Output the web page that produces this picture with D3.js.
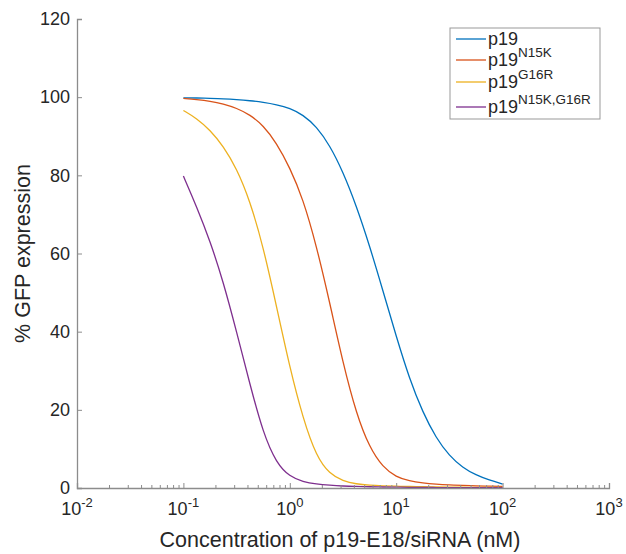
<!DOCTYPE html>
<html>
<head>
<meta charset="utf-8">
<script src="https://cdn.jsdelivr.net/npm/d3@7"></script>
<style>
  body { margin: 0; background: #fff; }
  text { font-family: "Liberation Sans", Arial, sans-serif; fill: #262626; }
</style>
</head>
<body>
<svg id="chart" width="626" height="554"></svg>
<script>
const conc = [0.1, 0.133, 0.178, 0.237, 0.316, 0.422, 0.562, 0.75, 1, 1.33, 1.78, 2.37,
  3.16, 4.22, 5.62, 7.5, 10, 13.3, 17.8, 23.7, 31.6, 42.2, 56.2, 75, 100];

const p19 = [99.8, 99.8, 99.7, 99.6, 99.4, 99.1, 98.7, 98.1, 97.2, 95.5, 92.5, 87.7,
  80.9, 72.2, 62, 50.5, 38.8, 28, 19.3, 12.8, 8.2, 5.2, 3.3, 2.0, 1.0];
const p19N15K = [99.7, 99.4, 99.0, 98.3, 97.2, 95.5, 92.8, 88.3, 82, 74, 62, 47.5,
  32, 19, 10.3, 5.3, 2.8, 1.8, 1.3, 1.0, 0.8, 0.65, 0.55, 0.47, 0.4];
const p19G16R = [96.6, 94.6, 91.6, 87.5, 81.8, 73.5, 61.8, 46.5, 30.8, 17.8, 8.0, 3.6,
  1.8, 1.0, 0.7, 0.55, 0.45, 0.38, 0.32, 0.27, 0.23, 0.2, 0.17, 0.14, 0.12];
const p19N15KG16R = [79.8, 72, 63.2, 52.8, 40, 26.5, 14, 6.3, 2.9, 1.6, 1.0, 0.7,
  0.5, 0.4, 0.32, 0.26, 0.21, 0.17, 0.14, 0.12, 0.1, 0.09, 0.08, 0.07, 0.06];

const seriesNames = ["p19", "p19N15K", "p19G16R", "p19N15K,G16R"];
const seriesSup = ["", "N15K", "G16R", "N15K,G16R"];
const seriesColors = ["#0072BD", "#D95319", "#EDB120", "#7E2F8E"];
const yTicks = [0, 20, 40, 60, 80, 100, 120];
const xExponents = [-2, -1, 0, 1, 2, 3];

const series = [p19, p19N15K, p19G16R, p19N15KG16R];

const margin = { left: 77, top: 19, right: 17, bottom: 66 };
const width = 626 - margin.left - margin.right;
const height = 554 - margin.top - margin.bottom;
const axisColor = "#8c8c8c";

const svg = d3.select("#chart");
const g = svg.append("g").attr("transform", `translate(${margin.left},${margin.top})`);

const x = d3.scaleLog().domain([0.01, 1000]).range([0, width]);
const y = d3.scaleLinear().domain([0, 120]).range([height, 0]);

// curves
const line = d3.line()
  .x((d, i) => x(conc[i]))
  .y(d => y(d))
  .curve(d3.curveBasis);

series.forEach((s, k) => {
  g.append("path")
    .attr("d", line(s))
    .attr("fill", "none")
    .attr("stroke", seriesColors[k])
    .attr("stroke-width", 1.3);
});

// y axis
const yAxis = d3.axisLeft(y).tickValues(yTicks).tickSize(-5).tickPadding(7);
const yg = g.append("g").call(yAxis);
yg.select(".domain").attr("stroke", axisColor).attr("stroke-width", 1.3);
yg.selectAll(".tick line").attr("stroke", axisColor);
yg.selectAll(".tick text").style("font-size", "18px").attr("fill", "#262626");

// x axis: minor ticks
const minor = [];
for (let e = -2; e < 3; e++) {
  for (let m = 2; m <= 9; m++) minor.push(m * Math.pow(10, e));
}
const xg = g.append("g").attr("transform", `translate(0,${height})`);
xg.call(d3.axisBottom(x).tickValues(minor).tickSize(-3).tickFormat(""));
xg.select(".domain").remove();
xg.selectAll(".tick line").attr("stroke", axisColor);

const xg2 = g.append("g").attr("transform", `translate(0,${height})`);
xg2.call(d3.axisBottom(x).tickValues(xExponents.map(e => Math.pow(10, e))).tickSize(-5).tickFormat(""));
xg2.select(".domain").attr("stroke", axisColor).attr("stroke-width", 1.3);
xg2.selectAll(".tick line").attr("stroke", axisColor);

// x tick labels with superscripts
xExponents.forEach(e => {
  const t = g.append("text")
    .attr("x", x(Math.pow(10, e)))
    .attr("y", height + 27)
    .attr("text-anchor", "middle")
    .style("font-size", "18px");
  t.append("tspan").text("10");
  t.append("tspan").attr("dy", -8).style("font-size", "13px").text(String(e));
});

// axis titles
svg.append("text")
  .attr("x", 340)
  .attr("y", 547)
  .attr("text-anchor", "middle")
  .style("font-size", "21.5px")
  .text("Concentration of p19-E18/siRNA (nM)");

svg.append("text")
  .attr("transform", `translate(30,${margin.top + height / 2}) rotate(-90)`)
  .attr("text-anchor", "middle")
  .style("font-size", "21.5px")
  .text("% GFP expression");

// legend
const legend = svg.append("g").attr("transform", "translate(450,28)");
legend.append("rect")
  .attr("width", 150).attr("height", 91)
  .attr("fill", "#fff").attr("stroke", "#999").attr("stroke-width", 1);

const rowY = [11, 32, 54, 79];
seriesNames.forEach((name, k) => {
  const cy = rowY[k];
  legend.append("line")
    .attr("x1", 6).attr("x2", 36)
    .attr("y1", cy).attr("y2", cy)
    .attr("stroke", seriesColors[k]).attr("stroke-width", 1.3);
  const t = legend.append("text")
    .attr("x", 38).attr("y", cy + 6)
    .style("font-size", "18px");
  t.append("tspan").text("p19");
  if (seriesSup[k]) {
    t.append("tspan").attr("dy", -9).style("font-size", "13.5px").text(seriesSup[k]);
  }
});
</script>
</body>
</html>
